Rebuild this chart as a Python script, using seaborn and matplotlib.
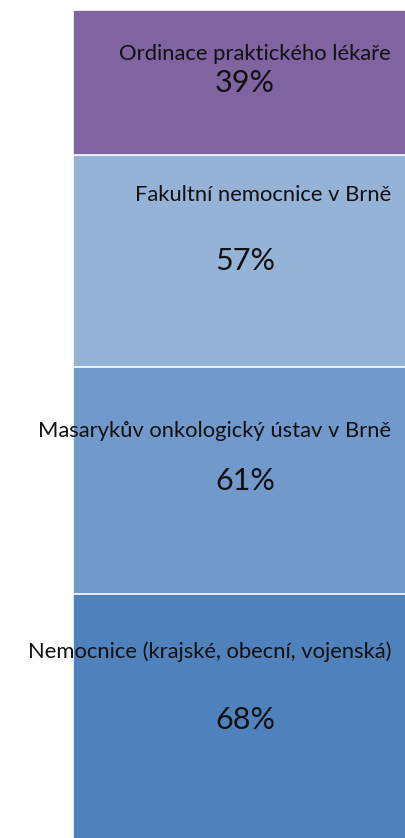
import matplotlib
matplotlib.use("Agg")
import numpy as np
import pandas as pd
import matplotlib.pyplot as plt
import seaborn as sns

# segments from bottom to top
labels = [
    "Nemocnice (krajské, obecní, vojenská)",
    "Masarykův onkologický ústav v Brně",
    "Fakultní nemocnice v Brně",
    "Ordinace praktického lékaře",
]
values = [68, 61, 57, 39]
colors = ["#4F81BD", "#7299CB", "#95B3D7", "#8064A2"]

# where the name sits inside its segment (fraction from segment top)
label_pos = [0.23, 0.28, 0.19, 0.30]

sns.set_theme(style="white")
plt.rcParams["font.family"] = ["Lato", "DejaVu Sans"]

fig = plt.figure(figsize=(4.05, 8.38), dpi=100)
ax = fig.add_axes([0, 0, 1, (838 - 10) / 838])

tops = np.cumsum(values)
bottoms = tops - np.array(values)

# stacked bar drawn as layered cumulative bars, tallest first
for i in reversed(range(len(values))):
    df = pd.DataFrame({"x": ["a"], "y": [tops[i]]})
    sns.barplot(data=df, x="x", y="y", color=colors[i], saturation=1,
                edgecolor="white", linewidth=1.2, width=0.8, ax=ax)

for i, (lab, v) in enumerate(zip(labels, values)):
    mid = bottoms[i] + v / 2
    ax.text(0, mid, f"{v}%", ha="center", va="center", fontsize=22, color="#111111")
    ly = tops[i] - v * label_pos[i]
    ax.text(0.34, ly, lab, ha="right", va="center", fontsize=15.8, color="#111111")

ax.set_xlim(-0.570, 0.372)
ax.set_ylim(2.4, tops[-1])
ax.axis("off")

fig.savefig("out.png", dpi=100)
